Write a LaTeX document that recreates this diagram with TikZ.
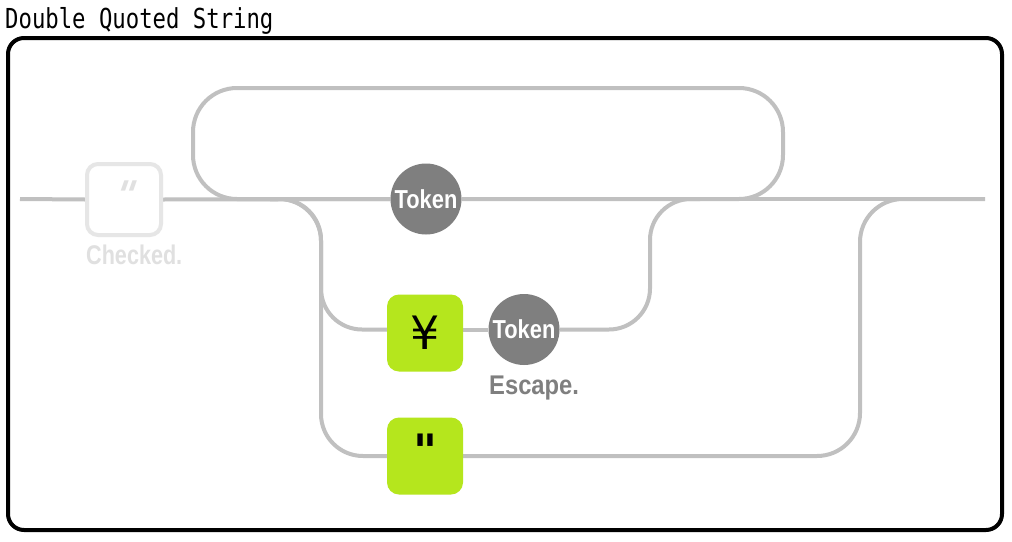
\documentclass[tikz,border=0pt]{standalone}
\usepackage{fontspec}
\usepackage{graphicx}
\usetikzlibrary{backgrounds}
\setmainfont{Liberation Sans}
\newfontfamily\monofont{DejaVu Sans Mono}
\newfontfamily\symfont{DejaVu Sans}
\newfontfamily\slquote[FakeSlant=0.35]{DejaVu Sans}
\definecolor{wirecol}{HTML}{C0C0C0}
\definecolor{limecol}{HTML}{B5E61D}
\definecolor{tokcol}{HTML}{7F7F7F}
\definecolor{ghostcol}{HTML}{E6E6E6}
\definecolor{ghosttext}{HTML}{E0E0E0}
\begin{document}
\begin{tikzpicture}[x=1pt,y=-1pt,
  wire/.style={draw=wirecol,line width=4pt},
  termbox/.style={rectangle,rounded corners=12pt,fill=limecol,minimum width=76pt,minimum height=77pt,inner sep=0pt},
  ghostbox/.style={rectangle,rounded corners=11pt,draw=ghostcol,line width=4pt,fill=white,minimum width=74pt,minimum height=71pt,inner sep=0pt},
  tokcirc/.style={circle,fill=tokcol,minimum size=71pt,inner sep=0pt,text=white,font=\fontsize{26}{30}\selectfont\bfseries},
  note/.style={anchor=base west,inner sep=0pt,font=\fontsize{27}{30}\selectfont\bfseries},
  qmark/.style={anchor=base,inner sep=0pt},
]
\useasboundingbox (0,0) rectangle (1012,541);

% title
\node[anchor=base west,inner sep=0pt,font=\monofont\fontsize{27.5}{30}\selectfont] (title) at (5,28) {\scalebox{0.81}[1]{Double Quoted String}};

% nodes
\coordinate (start) at (20,199);
\coordinate (end) at (985,199);
\coordinate (fork) at (270,199);
\coordinate (join1) at (700,199);

\node[ghostbox] (chk) at (124,199.5) {};
\node[qmark,text=ghosttext,font=\slquote\bfseries\fontsize{38}{38}\selectfont] (chkq) at (121,208) {"};
\node[note,text=ghosttext] (chklab) at (86,264) {\scalebox{0.8}[1]{Checked.}};

\node[tokcirc] (tok1) at (426,199) {\scalebox{0.84}[1]{Token}};

\node[termbox,font=\symfont\fontsize{46}{46}\selectfont] (yen) at (425,333) {¥};
\node[tokcirc] (tok2) at (524,329.5) {\scalebox{0.84}[1]{Token}};
\node[note,text=tokcol] (esclab) at (489,394) {\scalebox{0.88}[1]{Escape.}};

\node[termbox] (q) at (425,456) {};
\node[qmark,font=\symfont\bfseries\fontsize{46}{46}\selectfont] (qq) at (425,467) {"};

% wires
\begin{scope}[on background layer]
\fill[white] (0,0) rectangle (1012,541);
\draw[wire] (start) -- (chk.west);
\draw[wire] (chk.east) -- (tok1.west);
\draw[wire] (tok1.east) -- (end);
\draw[wire,rounded corners=44pt] (tok1.east) -- (783,199) -- (783,88) -- (193,88) -- (193,199) -- (tok1.west);
\draw[wire,rounded corners=41pt] (fork) -- (321,199) -- (321,329.5) -- (yen.west |- tok2.west);
\draw[wire,rounded corners=42pt] (fork) -- (321,199) -- (321,456) -- (q.west);
\draw[wire] (yen.east |- tok2.west) -- (tok2.west);
\draw[wire,rounded corners=41pt] (tok2.east) -- (650,329.5) -- (650,199) -- (join1);
\draw[wire,rounded corners=43pt] (q.east) -- (860,456) -- (860,199) -- (end);
\end{scope}

% frame
\draw[line width=4pt,rounded corners=16pt] (8,38) rectangle (1002,530);
\end{tikzpicture}
\end{document}
